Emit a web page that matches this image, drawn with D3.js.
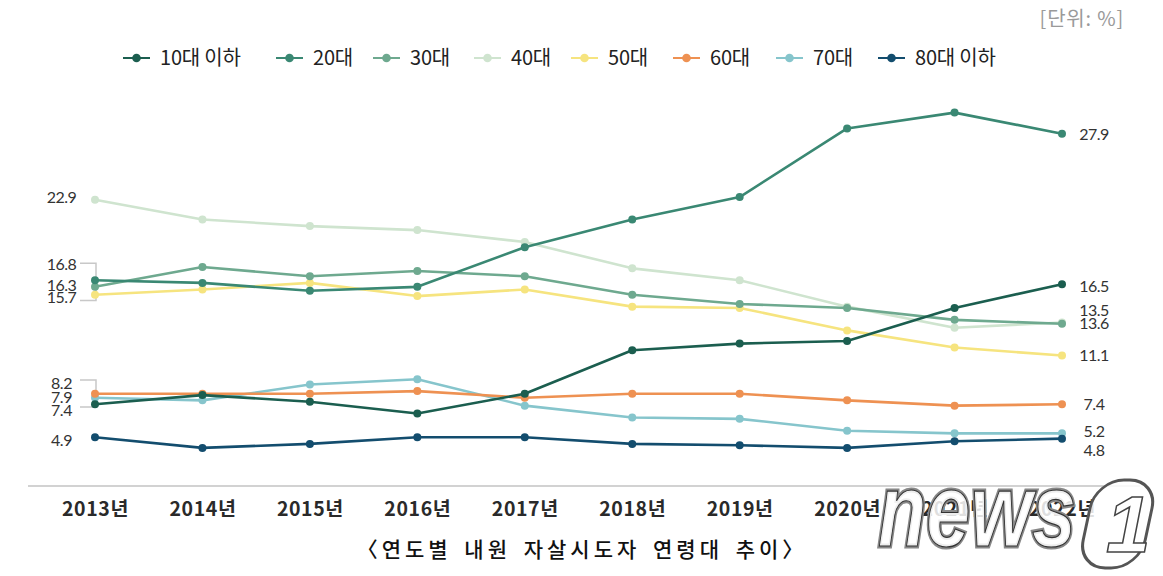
<!DOCTYPE html>
<html><head><meta charset="utf-8">
<script src="https://cdn.jsdelivr.net/npm/d3@7"></script>
<style>
html,body{margin:0;padding:0;background:#fff;}
svg{display:block;}
</style>
</head><body>
<svg id="chart" width="1163" height="576"></svg>
<script>
// ---- data ----
const years = ["2013년","2014년","2015년","2016년","2017년","2018년","2019년","2020년","2021년","2022년"];
const seriesNames = ["10대 이하","20대","30대","40대","50대","60대","70대","80대 이하"];
const teens    = [7.4, 8.1, 7.6, 6.7, 8.2, 11.5, 12.0, 12.2, 14.7, 16.5];
const twenties = [16.8, 16.6, 16.0, 16.3, 19.3, 21.4, 23.1, 28.3, 29.5, 27.9];
const thirties = [16.3, 17.8, 17.1, 17.5, 17.1, 15.7, 15.0, 14.7, 13.8, 13.5];
const forties  = [22.9, 21.4, 20.9, 20.6, 19.7, 17.7, 16.8, 14.8, 13.2, 13.6];
const fifties  = [15.7, 16.1, 16.6, 15.6, 16.1, 14.8, 14.7, 13.0, 11.7, 11.1];
const sixties  = [8.2, 8.2, 8.2, 8.4, 7.9, 8.2, 8.2, 7.7, 7.3, 7.4];
const seventies= [7.9, 7.7, 8.9, 9.3, 7.3, 6.4, 6.3, 5.4, 5.2, 5.2];
const eighties = [4.9, 4.1, 4.4, 4.9, 4.9, 4.4, 4.3, 4.1, 4.6, 4.8];
const seriesValues = [teens, twenties, thirties, forties, fifties, sixties, seventies, eighties];

// ---- style ----
const colors = ["#1b5e4f","#3a8873","#6ea98f","#cfe4cf","#f6e47f","#ee9152","#86c5cc","#134d6e"];
const leftNudge  = [5.7, -15.6, -1.8, -2, 2.7, -10.3, 0, 3];
const rightNudge = [2.5, 1, -13, 1, 0, 0, -2, 12];
const legendX = [123, 276, 373, 474, 571, 673, 776, 878];

const svg = d3.select("#chart");
const x = d3.scalePoint().domain(years).range([95, 1062]);
const y = d3.scaleLinear().domain([0, 30]).range([502, 502 - 30 * 13.2]);

const numFont = "Lato, 'Noto Sans', sans-serif";
const krFont = "'Noto Sans CJK KR', 'Noto Sans', sans-serif";

// unit label
svg.append("text").attr("x", 1124).attr("y", 19).attr("dy", "0.35em")
  .attr("text-anchor", "end").attr("font-family", krFont).attr("font-size", 20)
  .attr("letter-spacing", "0.8").attr("fill", "#9a9a9a").text("[단위: %]");

// legend
const legend = svg.append("g");
seriesNames.forEach((name, i) => {
  const lx = legendX[i];
  const g = legend.append("g");
  g.append("line").attr("x1", lx).attr("x2", lx + 27).attr("y1", 58).attr("y2", 58)
    .attr("stroke", colors[i]).attr("stroke-width", 2);
  g.append("circle").attr("cx", lx + 13.5).attr("cy", 58).attr("r", 4.3).attr("fill", colors[i]);
  g.append("text").attr("x", lx + 37).attr("y", 58).attr("dy", "0.36em")
    .attr("font-family", krFont).attr("font-size", 20).attr("letter-spacing", "-0.2")
    .attr("fill", "#222").text(name);
});

// baseline
svg.append("line").attr("x1", 28).attr("x2", 1140).attr("y1", 486).attr("y2", 486)
  .attr("stroke", "#d2d2d2").attr("stroke-width", 2);

// x axis labels
const xAxis = d3.axisBottom(x).tickSize(0).tickPadding(0);
const gx = svg.append("g").attr("transform", "translate(0,509)").call(xAxis);
gx.select(".domain").remove();
gx.selectAll("text").attr("font-family", krFont).attr("font-size", 19.5).attr("font-weight", 700)
  .attr("fill", "#2a2a2a").attr("dy", "0.35em").attr("letter-spacing", "0.6");

// brackets for stacked left labels
function bracket(top, bottom) {
  svg.append("path").attr("d", `M80,${top}H96V${bottom}H80`)
    .attr("fill", "none").attr("stroke", "#c8c8c8").attr("stroke-width", 1.5);
}
bracket(y(twenties[0]) + leftNudge[1] - 1.5, y(fifties[0]) + leftNudge[4] + 3);
bracket(y(sixties[0]) + leftNudge[5] - 3.5, y(teens[0]) + leftNudge[0] - 3);

// lines & dots
const line = d3.line().x((d, i) => x(years[i])).y(d => y(d));
const order = [3, 4, 2, 1, 6, 5, 7, 0];
order.forEach(i => {
  const g = svg.append("g");
  g.append("path").datum(seriesValues[i]).attr("d", line)
    .attr("fill", "none").attr("stroke", colors[i]).attr("stroke-width", 2.6)
    .attr("stroke-linejoin", "round");
  g.selectAll("circle").data(seriesValues[i]).join("circle")
    .attr("cx", (d, j) => x(years[j])).attr("cy", d => y(d)).attr("r", 4)
    .attr("fill", colors[i]);
});

// end labels
seriesValues.forEach((vals, i) => {
  svg.append("text").attr("x", 61.5).attr("y", y(vals[0]) + leftNudge[i]).attr("dy", "0.35em")
    .attr("text-anchor", "middle").attr("font-family", numFont).attr("font-size", 16)
    .attr("letter-spacing", "-0.5").attr("fill", "#333").text(vals[0].toFixed(1));
  const last = vals[vals.length - 1];
  svg.append("text").attr("x", 1094).attr("y", y(last) + rightNudge[i]).attr("dy", "0.35em")
    .attr("text-anchor", "middle").attr("font-family", numFont).attr("font-size", 16)
    .attr("letter-spacing", "-0.5").attr("fill", "#333").text(last.toFixed(1));
});

// caption
svg.append("text").attr("x", 582).attr("y", 550).attr("dy", "0.35em")
  .attr("text-anchor", "middle").attr("font-family", krFont).attr("font-size", 21)
  .attr("font-weight", 500)
  .attr("letter-spacing", "4").attr("word-spacing", "4").attr("fill", "#111")
  .text("〈연도별 내원 자살시도자 연령대 추이〉");

// news1 watermark
const wm = svg.append("g");
wm.append("text").attr("x", 878).attr("y", 546)
  .attr("font-family", "'Liberation Sans', sans-serif").attr("font-weight", 700)
  .attr("font-style", "italic").attr("font-size", 104)
  .attr("textLength", 198).attr("lengthAdjust", "spacingAndGlyphs")
  .attr("fill", "#fff").attr("fill-opacity", 0.85).attr("stroke", "#888").attr("stroke-width", 5)
  .attr("paint-order", "stroke").text("news");
wm.append("text").attr("x", 878).attr("y", 546)
  .attr("font-family", "'Liberation Sans', sans-serif").attr("font-weight", 700)
  .attr("font-style", "italic").attr("font-size", 104)
  .attr("textLength", 198).attr("lengthAdjust", "spacingAndGlyphs")
  .attr("fill", "none").attr("stroke", "#333").attr("stroke-width", 1.2).text("news");
wm.append("rect").attr("x", 1088).attr("y", 480).attr("width", 62).attr("height", 88)
  .attr("rx", 28).attr("transform", "skewX(-12) translate(110,0)")
  .attr("fill", "#fff").attr("fill-opacity", 0.85).attr("stroke", "#555").attr("stroke-width", 3);
wm.append("text").attr("x", 1106).attr("y", 552)
  .attr("font-family", "'Liberation Sans', sans-serif").attr("font-weight", 700)
  .attr("font-style", "italic").attr("font-size", 80)
  .attr("fill", "#fff").attr("stroke", "#444").attr("stroke-width", 1.5).text("1");
</script>
</body></html>
